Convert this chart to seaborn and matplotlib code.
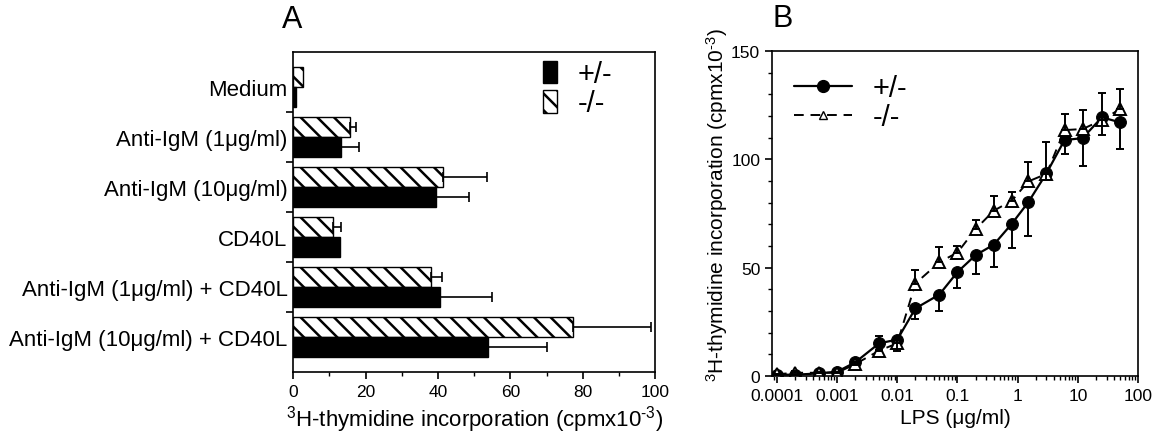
import numpy as np
import pandas as pd
import matplotlib
matplotlib.use('Agg')
import matplotlib.pyplot as plt
from matplotlib.patches import Patch
from matplotlib.lines import Line2D
from matplotlib.ticker import FixedLocator, MultipleLocator, LogLocator, NullFormatter
import seaborn as sns

# ---- data, panel A (bars) ----
conditions = ['Medium', 'Anti-IgM (1\u03bcg/ml)', 'Anti-IgM (10\u03bcg/ml)', 'CD40L',
              'Anti-IgM (1\u03bcg/ml) + CD40L', 'Anti-IgM (10\u03bcg/ml) + CD40L']
het_bar = [0.9, 13.1, 39.4, 12.9, 40.6, 53.7]
het_bar_err = [0.0, 5.1, 9.2, 0.0, 14.4, 16.3]
ko_bar = [2.8, 15.7, 41.5, 11.1, 38.0, 77.4]
ko_bar_err = [0.0, 1.8, 12.1, 2.1, 3.2, 21.5]

# ---- data, panel B (LPS dose response) ----
lps = [0.0001, 0.0002, 0.0005, 0.001, 0.002, 0.005, 0.01, 0.02, 0.05, 0.1,
       0.2, 0.4, 0.8, 1.5, 3, 6, 12, 25, 50]
het_lps = [0.6, 0.6, 1.2, 2.0, 6.3, 15.1, 16.8, 31.2, 37.6, 48.0,
           55.8, 60.6, 70.3, 80.2, 93.5, 108.9, 109.8, 119.4, 117.1]
het_lps_err = [0, 0, 0, 0, 1.0, 3.0, 5.4, 5.0, 7.6, 7.3,
               8.7, 10.4, 11.3, 15.4, 3.0, 6.4, 12.8, 8.2, 12.3]
ko_lps = [0.8, 1.5, 1.5, 1.5, 5.5, 11.7, 15.1, 42.7, 52.5, 57.0,
          67.8, 76.3, 80.9, 89.8, 93.3, 113.5, 114.0, 118.1, 123.2]
ko_lps_err = [0.3, 1.0, 0.5, 0.5, 1.0, 6.9, 2.0, 6.4, 7.2, 2.9,
              4.3, 6.9, 3.9, 8.8, 14.8, 7.4, 8.9, 12.4, 9.3]

genotypes = ['-/-', '+/-']

sns.set_style('ticks')
plt.rcParams['font.family'] = ['Liberation Sans', 'DejaVu Sans']
plt.rcParams['mathtext.fontset'] = 'custom'
plt.rcParams['mathtext.rm'] = 'Liberation Sans'
plt.rcParams['mathtext.default'] = 'regular'
plt.rcParams['hatch.linewidth'] = 1.8
plt.rcParams['axes.linewidth'] = 1.2
for k in ['text.color', 'axes.labelcolor', 'xtick.color', 'ytick.color', 'axes.edgecolor']:
    plt.rcParams[k] = 'black'

ylab = '$^{3}$H-thymidine incorporation (cpmx10$^{\u20103}$)'

fig = plt.figure(figsize=(11.54, 4.35), dpi=100)
ax1 = fig.add_axes([0.254, 0.1425, 0.3137, 0.7356])
ax2 = fig.add_axes([0.669, 0.1333, 0.3172, 0.7471])

# ---------------- panel A ----------------
dfA = pd.DataFrame({
    'condition': conditions * 2,
    'genotype': ['-/-'] * len(conditions) + ['+/-'] * len(conditions),
    'value': ko_bar + het_bar,
})
sns.barplot(data=dfA, y='condition', x='value', hue='genotype', hue_order=genotypes,
            palette={'-/-': 'white', '+/-': 'black'}, edgecolor='black', linewidth=1,
            errorbar=None, width=0.8, legend=False, ax=ax1)

for bar in ax1.containers[0]:
    bar.set_hatch('\\\\')

# one sided error bars, drawn from the bar tips
for cont, errs in zip(ax1.containers, [ko_bar_err, het_bar_err]):
    for bar, e in zip(cont, errs):
        if e <= 0:
            continue
        yc = bar.get_y() + bar.get_height() / 2
        ax1.errorbar(bar.get_width(), yc, xerr=[[0], [e]], fmt='none',
                     ecolor='black', elinewidth=1.2, capsize=3.5, capthick=1.2)

ax1.set_xlim(0, 100)
ax1.xaxis.set_major_locator(MultipleLocator(20))
ax1.xaxis.set_minor_locator(MultipleLocator(10))
ax1.yaxis.set_minor_locator(FixedLocator(np.arange(0.5, len(conditions) - 1, 1.0)))
ax1.tick_params(axis='y', which='major', length=0, labelsize=16, pad=4)
ax1.tick_params(axis='y', which='minor', length=5, width=1.2)
ax1.tick_params(axis='x', which='major', length=5, width=1.2, labelsize=12.5)
ax1.tick_params(axis='x', which='minor', length=3, width=1)
ax1.set_ylabel('')
ax1.set_xlabel(ylab, fontsize=16, labelpad=3)
for s in ax1.spines.values():
    s.set_visible(True)
    s.set_linewidth(1.2)

handlesA = [Patch(facecolor='black', edgecolor='black', label='+/-'),
            Patch(facecolor='white', edgecolor='black', hatch='\\\\', label='-/-')]
ax1.legend(handles=handlesA, loc='upper left', bbox_to_anchor=(0.69, 0.975),
           frameon=False, fontsize=21, handlelength=0.5, handleheight=0.8,
           handletextpad=0.7, labelspacing=0.05, borderpad=0, borderaxespad=0)

ax1.text(-0.03, 1.055, 'A', transform=ax1.transAxes, fontsize=22, va='bottom', ha='left')

# ---------------- panel B ----------------
dfHet = pd.DataFrame({'lps': lps, 'value': het_lps})
dfKo = pd.DataFrame({'lps': lps, 'value': ko_lps})

sns.lineplot(data=dfHet, x='lps', y='value', color='black', linewidth=1.6,
             marker='o', markersize=8.5, markerfacecolor='black', markeredgecolor='black',
             errorbar=None, ax=ax2)
sns.lineplot(data=dfKo, x='lps', y='value', color='black', linewidth=1.4,
             linestyle=(0, (5, 3.5)), marker='^', markersize=8,
             markerfacecolor='white', markeredgecolor='black', markeredgewidth=1.4,
             errorbar=None, ax=ax2)

zeros = np.zeros(len(lps))
ax2.errorbar(lps, het_lps, yerr=[het_lps_err, zeros], fmt='none', ecolor='black',
             elinewidth=1.4, capsize=3, capthick=1.4)
ax2.errorbar(lps, ko_lps, yerr=[zeros, ko_lps_err], fmt='none', ecolor='black',
             elinewidth=1.4, capsize=3, capthick=1.4)

ax2.set_xscale('log')
ax2.set_xlim(8.3e-5, 100)
ax2.set_ylim(0, 150)
ax2.xaxis.set_major_locator(FixedLocator([1e-4, 1e-3, 1e-2, 1e-1, 1, 10, 100]))
ax2.set_xticklabels(['0.0001', '0.001', '0.01', '0.1', '1', '10', '100'])
ax2.xaxis.set_minor_locator(LogLocator(base=10, subs=np.arange(2, 10)))
ax2.xaxis.set_minor_formatter(NullFormatter())
ax2.yaxis.set_major_locator(MultipleLocator(50))
ax2.yaxis.set_minor_locator(MultipleLocator(10))
ax2.tick_params(axis='both', which='major', length=5, width=1.2, labelsize=12.5)
ax2.tick_params(axis='both', which='minor', length=3, width=1)
ax2.set_xlabel('LPS (\u03bcg/ml)', fontsize=15, labelpad=4)
ax2.set_ylabel(ylab, fontsize=15)
ax2.yaxis.set_label_coords(-0.115, 0.53)
for s in ax2.spines.values():
    s.set_visible(True)
    s.set_linewidth(1.2)

handlesB = [Line2D([], [], color='black', linewidth=1.6, marker='o', markersize=8.5,
                   label='+/-'),
            Line2D([], [], color='black', linewidth=1.4, linestyle=(0, (5, 3.5)),
                   marker='^', markersize=6, markerfacecolor='white', label='-/-')]
ax2.legend(handles=handlesB, loc='upper left', bbox_to_anchor=(0.06, 0.93),
           frameon=False, fontsize=21, handlelength=2.0, handletextpad=0.7,
           labelspacing=0.05, borderpad=0, borderaxespad=0)

ax2.text(0.0, 1.055, 'B', transform=ax2.transAxes, fontsize=22, va='bottom', ha='left')

fig.savefig('out.png', dpi=100)
